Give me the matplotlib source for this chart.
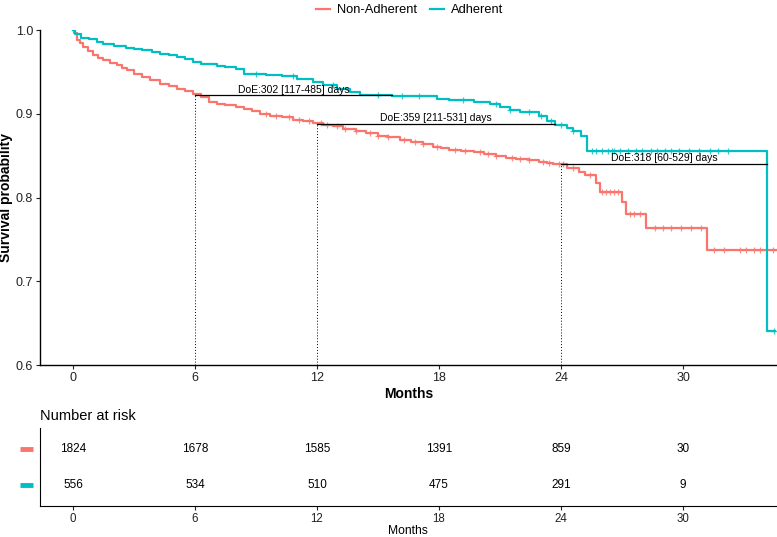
import numpy as np
import matplotlib
matplotlib.use("Agg")
import matplotlib.pyplot as plt

plt.rcParams['font.family'] = ['Liberation Sans', 'DejaVu Sans']

RED = '#F8766D'
TEAL = '#00BFC4'

# Kaplan-Meier step points (months, survival)
na_times = [0, 0.05, 0.18, 0.35, 0.5, 0.75, 1.0, 1.25, 1.5, 1.8, 2.15, 2.4, 2.65, 3.0,
            3.4, 3.8, 4.3, 4.7, 5.1, 5.5, 5.9, 6.3, 6.7, 7.1, 7.5, 8.0, 8.4, 8.8, 9.2,
            9.7, 10.3, 10.8, 11.3, 11.8, 12.3, 12.8, 13.3, 13.9, 14.4, 15.0, 15.5,
            16.1, 16.6, 17.2, 17.7, 18.1, 18.5, 19.1, 19.7, 20.2, 20.8, 21.3, 21.8,
            22.4, 22.9, 23.3, 23.6, 24.3, 24.9, 25.2, 25.7, 25.9, 27.0, 27.2, 28.2,
            31.2, 34.6]
na_surv = [1.0, 0.996, 0.988, 0.984, 0.980, 0.975, 0.970, 0.967, 0.964, 0.961, 0.958,
           0.955, 0.952, 0.948, 0.944, 0.940, 0.936, 0.933, 0.930, 0.927, 0.924, 0.920,
           0.914, 0.912, 0.910, 0.908, 0.906, 0.903, 0.900, 0.898, 0.896, 0.893, 0.891,
           0.889, 0.887, 0.885, 0.882, 0.880, 0.877, 0.874, 0.872, 0.869, 0.866, 0.864,
           0.861, 0.859, 0.857, 0.856, 0.855, 0.852, 0.850, 0.847, 0.846, 0.845, 0.843,
           0.841, 0.840, 0.835, 0.831, 0.827, 0.817, 0.807, 0.795, 0.781, 0.764, 0.737,
           0.737]

ad_times = [0, 0.1, 0.4, 0.8, 1.2, 1.5, 2.0, 2.6, 3.0, 3.4, 3.9, 4.3, 4.7, 5.1, 5.5,
            5.9, 6.3, 6.7, 7.1, 7.5, 8.0, 8.4, 9.5, 10.3, 11.0, 11.8, 12.3, 13.0, 13.6,
            14.1, 15.7, 17.9, 18.5, 19.7, 20.5, 21.0, 21.5, 22.0, 22.9, 23.3, 23.7,
            24.3, 24.6, 25.0, 25.3, 34.15, 34.5]
ad_surv = [1.0, 0.995, 0.990, 0.989, 0.986, 0.983, 0.981, 0.979, 0.977, 0.976, 0.974,
           0.972, 0.970, 0.968, 0.965, 0.962, 0.960, 0.959, 0.957, 0.956, 0.954, 0.947,
           0.946, 0.945, 0.942, 0.938, 0.934, 0.930, 0.926, 0.923, 0.921, 0.918, 0.916,
           0.914, 0.912, 0.908, 0.905, 0.902, 0.898, 0.891, 0.887, 0.883, 0.880, 0.873,
           0.856, 0.641, 0.641]

# censoring marks (months)
na_censor = [9.5, 10.0, 10.6, 11.1, 11.6, 12.2, 12.5, 13.0, 13.4, 13.9, 14.6, 15.0,
             15.5, 16.3, 16.8, 17.2, 17.9, 18.8, 19.3, 20.0, 20.4, 20.8, 21.6, 22.0,
             22.4, 23.1, 23.4, 23.9, 24.1, 24.6, 25.4, 26.0, 26.2, 26.4, 26.6, 26.8,
             27.4, 27.6, 27.9, 28.6, 29.0, 29.4, 29.9, 30.4, 30.9, 31.5, 32.0, 32.8,
             33.1, 33.5, 33.8, 34.4]
ad_censor = [9.0, 10.8, 12.8, 15.0, 16.2, 17.0, 19.2, 20.8, 21.5, 22.4, 23.0, 23.5,
             24.0, 24.6, 25.5, 25.7, 26.0, 26.3, 26.5, 26.6, 26.9, 27.3, 27.7, 28.0,
             28.4, 28.7, 29.1, 29.4, 29.8, 30.3, 30.8, 31.3, 31.7, 32.2, 34.45]

labels = ['Non-Adherent', 'Adherent']
risk_times = [0, 6, 12, 18, 24, 30]
risk_na = [1824, 1678, 1585, 1391, 859, 30]
risk_ad = [556, 534, 510, 475, 291, 9]

# duration of effect annotations: start month, end month, survival level, label
doe_start = [6, 12, 24]
doe_end = [15.7, 23.7, 34.15]
doe_level = [0.922, 0.888, 0.840]
doe_text = ['DoE:302 [117-485] days', 'DoE:359 [211-531] days', 'DoE:318 [60-529] days']

xlim = (-1.62, 34.6)

fig = plt.figure(figsize=(7.77, 5.37), dpi=100)
ax = fig.add_axes([0.0515, 0.320, 0.948, 0.624])


def surv_at(times, surv, t):
    idx = np.searchsorted(times, t, side='right') - 1
    return np.asarray(surv)[idx]


for times, surv, cens, col, lab in [(na_times, na_surv, na_censor, RED, labels[0]),
                                    (ad_times, ad_surv, ad_censor, TEAL, labels[1])]:
    ax.step(times, surv, where='post', color=col, lw=1.6, label=lab)
    ax.plot(cens, surv_at(times, surv, cens), ls='none', marker='+', ms=5,
            mew=0.9, color=col, alpha=0.8)

for s, e, lv, txt in zip(doe_start, doe_end, doe_level, doe_text):
    ax.plot([s, e], [lv, lv], color='black', lw=0.9, zorder=3)
    ax.plot([s, s], [0.6, lv], color='black', lw=0.7, ls=(0, (1, 2)), zorder=3)
    ax.text((s + e) / 2, lv + 0.001, txt, ha='center', va='bottom', fontsize=7.5)

ax.set_xlim(*xlim)
ax.set_ylim(0.6, 1.0)
ax.set_xticks(risk_times)
ax.set_yticks([0.6, 0.7, 0.8, 0.9, 1.0])
ax.set_yticklabels(['0.6', '0.7', '0.8', '0.9', '1.0'])
ax.tick_params(labelsize=9, length=3, width=0.8, pad=2, colors='#222222')
ax.spines['top'].set_visible(False)
ax.spines['right'].set_visible(False)
for sp in ['left', 'bottom']:
    ax.spines[sp].set_linewidth(1.0)
ax.set_xlabel('Months', fontsize=10, fontweight='bold', labelpad=2)
ax.set_ylabel('Survival probability', fontsize=10, fontweight='bold')
ax.yaxis.set_label_coords(-0.036, 0.5)

fig.legend(loc='upper center', bbox_to_anchor=(0.527, 1.014), ncol=2, frameon=False,
           fontsize=9.3, handlelength=1.1, columnspacing=1.0, handletextpad=0.5)

# risk table
rt = fig.add_axes([0.0515, 0.058, 0.948, 0.145])
rt.set_xlim(*xlim)
rt.set_ylim(0.4, 2.6)
for t, a, b in zip(risk_times, risk_na, risk_ad):
    rt.text(t, 2, str(a), ha='center', va='center', fontsize=8.5)
    rt.text(t, 1, str(b), ha='center', va='center', fontsize=8.5)
rt.set_xticks(risk_times)
rt.set_yticks([])
rt.tick_params(labelsize=8.3, length=3, width=0.8, pad=2, colors='#222222')
rt.spines['top'].set_visible(False)
rt.spines['right'].set_visible(False)
rt.set_xlabel('Months', fontsize=8.7, labelpad=0)
rt.set_title('Number at risk', loc='left', fontsize=10.5, pad=6)
trans = rt.get_yaxis_transform()
rt.plot([-0.027, -0.0095], [2, 2], transform=trans, color=RED, lw=3.5,
        solid_capstyle='butt', clip_on=False)
rt.plot([-0.027, -0.0095], [1, 1], transform=trans, color=TEAL, lw=3.5,
        solid_capstyle='butt', clip_on=False)

fig.savefig('out.png', dpi=100)
